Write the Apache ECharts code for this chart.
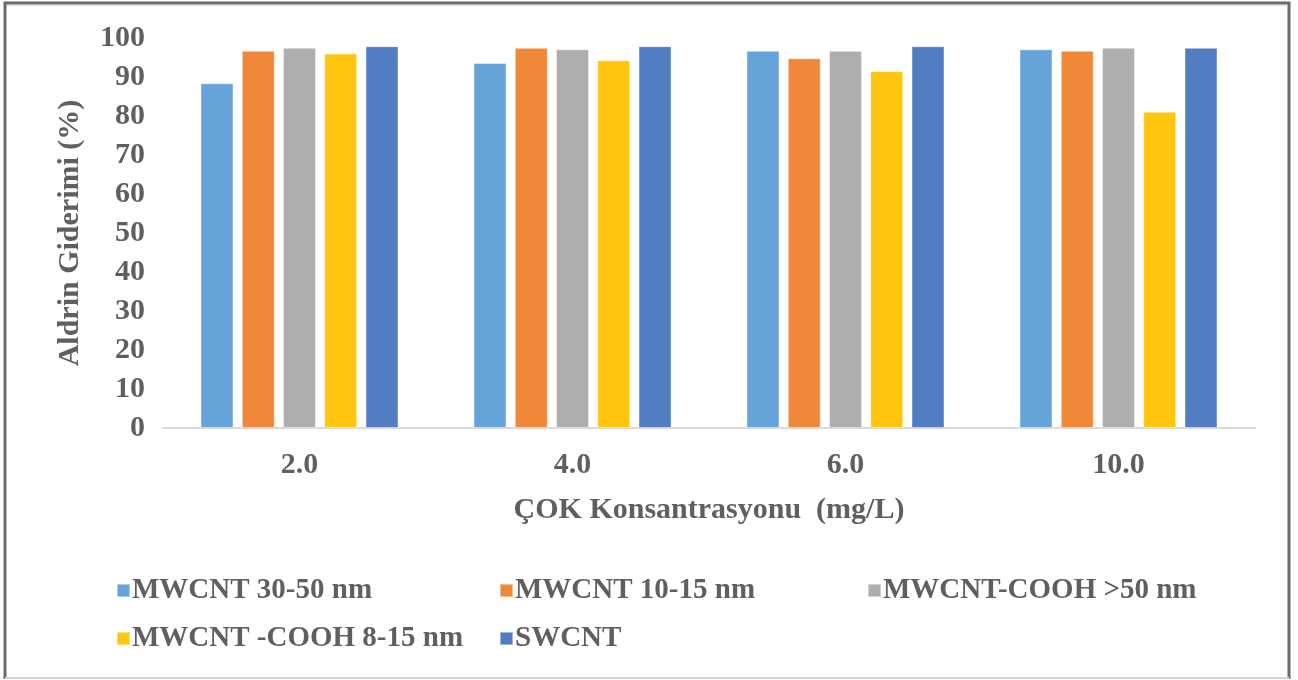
<!DOCTYPE html>
<html>
<head>
<meta charset="utf-8">
<script src="https://cdn.jsdelivr.net/npm/echarts@6/dist/echarts.min.js"></script>
<style>
  html, body { margin: 0; padding: 0; background: #ffffff; }
  #chart { width: 1298px; height: 680px; }
</style>
</head>
<body>
<div id="chart"></div>
<script>
// Concentrations on the category axis (mg/L)
const categories = ['2.0', '4.0', '6.0', '10.0'];

// Removal efficiency (%) for each adsorbent
const mwcnt3050 = [88.4, 93.6, 96.7, 97.1];
const mwcnt1015 = [96.7, 97.5, 94.8, 96.7];
const mwcntCooh50 = [97.5, 97.1, 96.7, 97.5];
const mwcntCooh815 = [96.0, 94.3, 91.5, 81.1];
const swcnt = [97.9, 97.9, 97.9, 97.5];

const seriesNames = [
  'MWCNT 30-50 nm',
  'MWCNT 10-15 nm',
  'MWCNT-COOH >50 nm',
  'MWCNT -COOH 8-15 nm',
  'SWCNT'
];
const seriesValues = [mwcnt3050, mwcnt1015, mwcntCooh50, mwcntCooh815, swcnt];
const seriesColors = ['#66a3d9', '#f0883a', '#adaead', '#ffc50f', '#517cc1'];

const FONT = '"Liberation Serif", "Times New Roman", serif';
const TEXT = '#5f5f5f';

const chart = echarts.init(document.getElementById('chart'), null, { renderer: 'canvas' });

const baseText = { fontFamily: FONT, fontWeight: 'bold', fontSize: 30, color: TEXT };

// One legend block per entry, laid out in a two-row grid
const legendSlots = [
  { left: 116, top: 576 },
  { left: 499, top: 576 },
  { left: 867, top: 576 },
  { left: 116, top: 624 },
  { left: 499, top: 624 }
];
const legends = seriesNames.map((name, i) => ({
  data: [name],
  left: legendSlots[i].left,
  top: legendSlots[i].top,
  orient: 'horizontal',
  icon: 'rect',
  itemWidth: 13,
  itemHeight: 13,
  itemGap: 0,
  padding: 0,
  selectedMode: false,
  textStyle: Object.assign({}, baseText, { fontSize: 29, lineHeight: 29, padding: [0, 0, 0, -3] })
}));

const option = {
  backgroundColor: '#ffffff',
  animation: false,
  legend: legends,
  grid: { left: 163, right: 43, top: 38, bottom: 252, containLabel: false },
  xAxis: {
    type: 'category',
    data: categories,
    axisLine: { show: true, lineStyle: { color: '#d9d9d9', width: 2 } },
    axisTick: { show: false },
    axisLabel: Object.assign({}, baseText, { margin: 22 }),
    name: 'ÇOK Konsantrasyonu  (mg/L)',
    nameLocation: 'middle',
    nameGap: 67,
    nameTextStyle: baseText
  },
  yAxis: {
    type: 'value',
    min: 0,
    max: 100,
    interval: 10,
    axisLine: { show: false },
    axisTick: { show: false },
    splitLine: { show: false },
    axisLabel: Object.assign({}, baseText, { margin: 18 }),
    name: 'Aldrin Giderimi (%)',
    nameLocation: 'middle',
    nameRotate: 90,
    nameGap: 78,
    nameTextStyle: baseText
  },
  series: seriesNames.map((name, i) => ({
    name: name,
    type: 'bar',
    data: seriesValues[i],
    barWidth: 33,
    barGap: '25%',
    itemStyle: { color: seriesColors[i], borderColor: 'rgba(255,255,255,0.45)', borderWidth: 1 }
  })),
  graphic: [
    // outer frame
    {
      type: 'polyline',
      shape: { points: [[5, 679], [5, 3], [1289, 3], [1289, 679]] },
      style: { stroke: '#6b6b6b', lineWidth: 3, fill: null },
      silent: true
    },
    {
      type: 'line',
      shape: { x1: 5, y1: 678, x2: 1289, y2: 678 },
      style: { stroke: '#d4d4d4', lineWidth: 2 },
      silent: true
    },
    {
      type: 'line',
      shape: { x1: 7, y1: 5.5, x2: 1287, y2: 5.5 },
      style: { stroke: '#e2e2e2', lineWidth: 1 },
      silent: true
    }
  ]
};

chart.setOption(option);
</script>
</body>
</html>
